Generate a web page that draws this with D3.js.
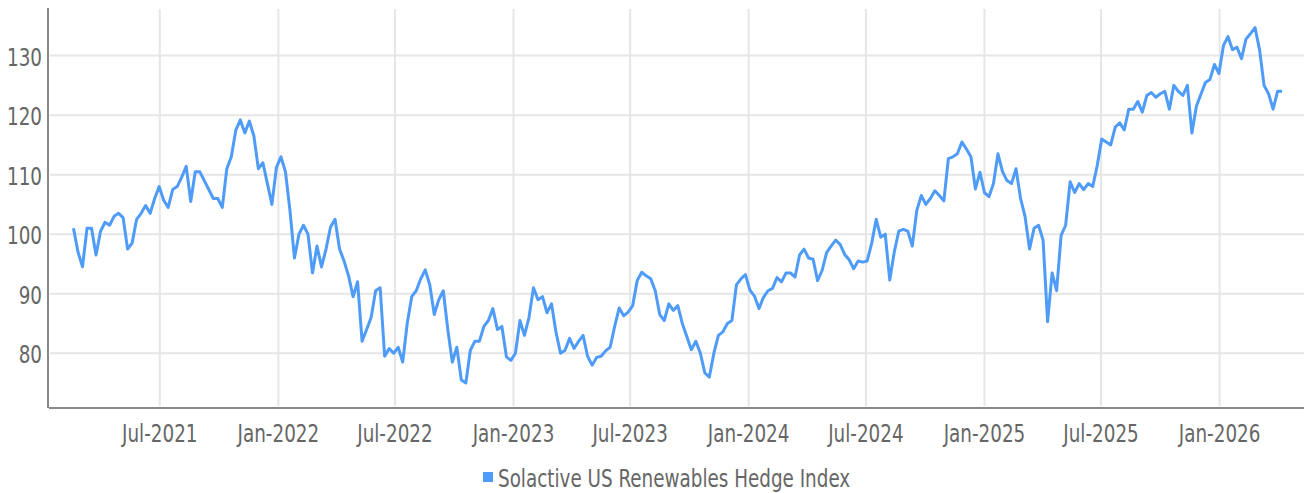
<!DOCTYPE html>
<html lang="en">

<head>
    <meta charset="UTF-8">
    <script src="https://cdn.jsdelivr.net/npm/d3@7"></script>
    <style>
        * {
            box-sizing: border-box;
        }

        body {
            margin: 0;
            background: #fff;
        }

        text {
            font-family: "Liberation Sans Narrow", "DejaVu Sans Condensed", "Roboto", sans-serif;
            fill: #666;
        }
    </style>
    <title>Solactive US Renewables Hedge Index</title>
</head>

<body>
    <svg id="chart" width="1304" height="493"></svg>
    <script>
        // weekly closes, first one on startDate
        const seriesName = "Solactive US Renewables Hedge Index";
        const startDate = "2021-02-17";
        const values = [
            101, 97, 94.5, 101, 101, 96.5, 100.5, 102, 101.5, 103,
            103.5, 102.8, 97.5, 98.5, 102.5, 103.5, 104.8, 103.5, 106, 108,
            105.7, 104.5, 107.5, 108, 109.6, 111.4, 105.5, 110.5, 110.5, 109,
            107.5, 106, 106, 104.5, 111, 113, 117.5, 119.2, 117, 119,
            116.5, 111, 112, 108.5, 105, 111.2, 113, 110.5, 104, 96,
            100, 101.5, 100, 93.5, 98, 94.5, 97.5, 101.2, 102.5, 97.5,
            95.5, 93, 89.5, 92, 82, 84, 86, 90.5, 91, 79.5,
            80.8, 80, 81, 78.5, 85, 89.5, 90.5, 92.5, 94, 91.5,
            86.5, 89, 90.5, 84, 78.5, 81, 75.5, 75, 80.5, 82,
            82, 84.5, 85.5, 87.5, 84, 84.5, 79.4, 78.8, 80, 85.5,
            83, 86, 91, 89, 89.5, 86.8, 88.3, 83.5, 80, 80.5,
            82.5, 80.8, 82, 83, 79.5, 78, 79.3, 79.5, 80.4, 81,
            84.5, 87.6, 86.3, 86.9, 88, 92.2, 93.6, 93, 92.5, 90.5,
            86.5, 85.5, 88.3, 87.2, 88, 85, 82.8, 80.6, 82, 80,
            76.7, 76, 80, 83, 83.6, 85, 85.5, 91.5, 92.5, 93.2,
            90.6, 89.6, 87.5, 89.4, 90.5, 90.9, 92.7, 92, 93.5, 93.5,
            92.8, 96.5, 97.5, 96, 95.8, 92.2, 93.9, 96.9, 98, 99,
            98.3, 96.6, 95.7, 94.2, 95.5, 95.3, 95.5, 98.5, 102.5, 99.5,
            100, 92.3, 97, 100.5, 100.8, 100.5, 98, 104, 106.5, 105,
            106, 107.3, 106.5, 105.6, 112.7, 113, 113.5, 115.5, 114.3, 113,
            107.6, 110.4, 107, 106.3, 108.5, 113.5, 110.5, 109, 108.5, 111,
            106, 103, 97.5, 101, 101.5, 99, 85.3, 93.5, 90.5, 99.8,
            101.5, 108.8, 107, 108.5, 107.5, 108.5, 108, 111.5, 116, 115.5,
            115, 118, 118.7, 117.5, 121, 121, 122.3, 120.5, 123.3, 123.8,
            123, 123.6, 124, 121, 125, 124, 123.3, 125, 117, 121.5,
            123.5, 125.5, 126, 128.5, 127, 131.7, 133.2, 131, 131.4, 129.5,
            132.8, 133.7, 134.7, 131, 125, 123.6, 121, 124, 124
        ];
        const xTickDates = ["2021-07-01", "2022-01-01", "2022-07-01", "2023-01-01", "2023-07-01",
            "2024-01-01", "2024-07-01", "2025-01-01", "2025-07-01", "2026-01-01"];
        const yTicks = [80, 90, 100, 110, 120, 130];

        let parse = d3.utcParse("%Y-%m-%d");
        let start = parse(startDate);
        let points = values.map((v, i) => ({ date: d3.utcDay.offset(start, i * 7), value: v }));

        let svg = d3.select("#chart");
        let plotLeft = 48, plotBottom = 408, plotTop = 8, plotRight = 1304;
        // the original uses a narrow DIN-like face, squeeze ours to the same width
        let squeeze = 0.85;

        let x = d3.scaleUtc()
            .domain([parse("2021-01-10"), parse("2026-05-12")])
            .range([plotLeft + 1, plotRight]);
        let y = d3.scaleLinear()
            .domain([70.8, 138])
            .range([plotBottom, plotTop]);

        // grid
        let grid = svg.append("g");
        grid.selectAll(".hgrid")
            .data(yTicks)
            .join("line")
            .attr("x1", plotLeft + 2)
            .attr("x2", plotRight)
            .attr("y1", d => y(d))
            .attr("y2", d => y(d))
            .attr("stroke", "#e6e6e6")
            .attr("stroke-width", 2);
        grid.selectAll(".vgrid")
            .data(xTickDates.map(parse))
            .join("line")
            .attr("x1", d => x(d))
            .attr("x2", d => x(d))
            .attr("y1", plotTop + 1)
            .attr("y2", plotBottom - 2)
            .attr("stroke", "#e6e6e6")
            .attr("stroke-width", 2);

        // axis lines
        svg.append("line")
            .attr("x1", plotLeft).attr("x2", plotLeft)
            .attr("y1", plotTop).attr("y2", plotBottom)
            .attr("stroke", "#888").attr("stroke-width", 2);
        svg.append("line")
            .attr("x1", plotLeft + 1).attr("x2", plotRight)
            .attr("y1", plotBottom).attr("y2", plotBottom)
            .attr("stroke", "#888").attr("stroke-width", 2);

        // tick labels
        svg.append("g").selectAll("text")
            .data(yTicks)
            .join("text")
            .attr("transform", d => `translate(${plotLeft - 6},${y(d) + 10}) scale(${squeeze},1)`)
            .attr("text-anchor", "end")
            .attr("font-size", 24)
            .text(d => d);

        let fmt = d3.utcFormat("%b-%Y");
        svg.append("g").selectAll("text")
            .data(xTickDates.map(parse))
            .join("text")
            .attr("transform", d => `translate(${x(d)},442) scale(${squeeze},1)`)
            .attr("text-anchor", "middle")
            .attr("font-size", 24)
            .text(d => fmt(d));

        // the index
        let line = d3.line()
            .x(d => x(d.date))
            .y(d => y(d.value));
        svg.append("path")
            .datum(points)
            .attr("d", line)
            .attr("fill", "none")
            .attr("stroke", "#4e9bf8")
            .attr("stroke-width", 3)
            .attr("stroke-linejoin", "round");

        // legend
        let legend = svg.append("g");
        legend.append("rect")
            .attr("x", 483)
            .attr("y", 472)
            .attr("width", 10)
            .attr("height", 10)
            .attr("fill", "#4e9bf8");
        legend.append("text")
            .attr("transform", `translate(498,487) scale(${squeeze},1)`)
            .attr("font-size", 24)
            .text(seriesName);
    </script>
</body>

</html>
